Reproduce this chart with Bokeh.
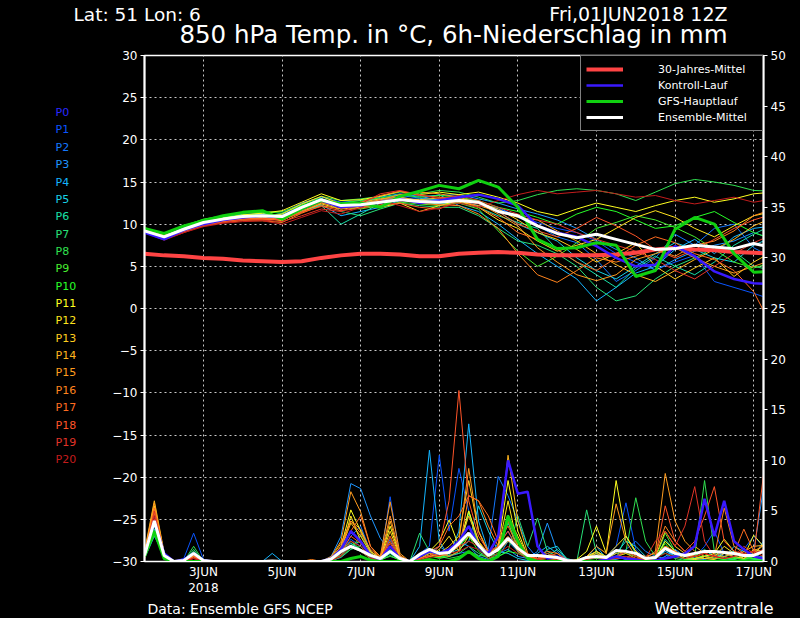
from bokeh.plotting import figure
from bokeh.models import Range1d, LinearAxis, FixedTicker, Legend, LegendItem
from bokeh.layouts import column, row
from bokeh.core.properties import value
from bokeh.embed import file_html
from bokeh.resources import INLINE

FONT = "DejaVu Sans"

# ---------------- time axes (day of June 2018, UTC) ----------------
t_temp = [1.5 + 0.5 * i for i in range(33)]    # 01JUN 12Z ... 17JUN 12Z, 12-hourly
t_prec = [1.5 + 0.25 * i for i in range(64)]   # 01JUN 12Z ... 17JUN 06Z, 6-hourly

x_ticks = [3, 5, 7, 9, 11, 13, 15, 17]
x_tick_labels = ["3JUN", "5JUN", "7JUN", "9JUN", "11JUN", "13JUN", "15JUN", "17JUN"]
temp_ticks = [-30, -25, -20, -15, -10, -5, 0, 5, 10, 15, 20, 25, 30]
prec_ticks = [0, 5, 10, 15, 20, 25, 30, 35, 40, 45, 50]

member_names = ["P%d" % i for i in range(21)]
member_colors = ["#2a2aff", "#0a55ff", "#1478ff", "#1e96ff", "#14b4ff", "#18d2e6",
                 "#18e0a8", "#28e078", "#30e050", "#48ee30", "#28ff28", "#ffff20",
                 "#ffe41e", "#ffcc1e", "#ffb41e", "#ff9c1e", "#ff841e", "#ff6c20",
                 "#ff5428", "#e03428", "#c41c1c"]

# ---------------- 850 hPa temperature (deg C), 12-hourly ----------------
temp_clim = [6.5, 6.3, 6.2, 6.0, 5.9, 5.7, 5.6, 5.5, 5.6, 6.0, 6.3, 6.5, 6.5, 6.4, 6.2, 6.2,
             6.5, 6.6, 6.7, 6.6, 6.4, 6.3, 6.3, 6.3, 6.4, 6.6, 7.0, 7.2, 7.0, 6.9, 6.7, 6.6, 6.5]
temp_gfs = [9.5, 8.9, 9.8, 10.4, 11.0, 11.4, 11.6, 10.6, 11.8, 12.8, 12.4, 12.5, 12.0, 13.3, 13.9, 14.6,
            14.2, 15.2, 14.4, 12.0, 8.2, 7.1, 7.2, 7.8, 7.5, 3.8, 4.5, 9.4, 10.8, 10.0, 6.5, 4.3, 4.4]
temp_mean = [9.2, 8.5, 9.4, 10.2, 10.6, 10.9, 11.0, 10.9, 12.0, 12.9, 12.2, 12.3, 12.6, 12.9, 12.7, 12.6,
             12.8, 12.6, 11.5, 11.0, 9.8, 8.9, 8.4, 8.8, 8.2, 7.6, 7.0, 7.1, 7.5, 7.3, 7.1, 7.7, 7.2]

temp_p0 = [9.0, 8.2, 9.3, 10.0, 10.5, 10.8, 11.0, 10.8, 11.8, 12.8, 12.0, 12.2, 12.6, 13.0, 12.5, 12.8,
           13.2, 13.5, 13.0, 12.2, 9.8, 9.0, 8.5, 7.4, 6.0, 5.0, 5.2, 7.4, 6.2, 4.4, 3.5, 3.0, 2.9]
temp_p1 = [9.1, 8.4, 9.5, 10.3, 10.4, 11.0, 11.2, 11.1, 12.2, 12.7, 12.4, 12.0, 12.9, 13.2, 12.9, 13.0,
           13.0, 12.5, 11.8, 11.0, 10.2, 9.5, 9.0, 8.0, 6.5, 5.5, 4.6, 5.5, 6.3, 3.2, 2.5, 1.8, 1.0]
temp_p2 = [9.3, 8.6, 9.2, 10.1, 10.7, 10.8, 10.8, 11.3, 12.5, 13.2, 12.6, 12.8, 13.0, 13.4, 13.1, 12.9,
           12.8, 12.2, 12.0, 10.8, 9.8, 8.5, 7.8, 5.8, 3.2, 4.5, 6.0, 8.8, 7.5, 9.5, 10.0, 7.2, 6.0]
temp_p3 = [9.2, 8.5, 9.6, 10.4, 10.9, 11.2, 11.1, 10.7, 11.8, 12.6, 12.1, 12.5, 13.2, 13.6, 13.3, 13.4,
           13.5, 13.0, 12.5, 11.8, 11.2, 10.5, 9.5, 8.2, 7.0, 6.0, 4.5, 5.8, 6.8, 7.5, 8.0, 9.0, 8.2]
temp_p4 = [9.0, 8.3, 9.1, 9.9, 10.4, 10.7, 10.6, 10.9, 11.5, 12.3, 11.0, 11.5, 12.0, 12.8, 13.0, 13.5,
           12.2, 11.5, 10.0, 8.2, 6.5, 5.0, 3.5, 0.9, 2.5, 4.2, 5.0, 7.0, 8.2, 6.5, 8.5, 9.5, 9.8]
temp_p5 = [9.4, 8.6, 9.5, 10.3, 10.8, 11.1, 11.3, 11.0, 12.1, 13.0, 12.3, 12.6, 12.8, 13.1, 12.8, 12.9,
           13.0, 12.8, 11.5, 10.0, 9.0, 8.0, 6.0, 4.5, 3.5, 5.0, 6.5, 7.8, 7.0, 6.0, 5.5, 7.5, 8.5]
temp_p6 = [9.3, 8.7, 9.4, 10.2, 10.6, 11.0, 10.9, 10.6, 11.6, 12.2, 10.0, 11.2, 12.5, 13.0, 12.6, 12.4,
           12.5, 12.0, 11.0, 10.2, 9.5, 7.0, 5.5, 4.0, 2.5, 4.8, 6.2, 5.0, 4.0, 5.5, 7.5, 8.8, 10.0]
temp_p7 = [9.1, 8.4, 9.3, 10.1, 10.5, 10.9, 11.0, 11.2, 12.4, 13.1, 11.5, 11.0, 11.8, 12.5, 12.2, 12.0,
           12.0, 11.0, 9.5, 8.0, 7.5, 6.5, 5.0, 2.5, 0.9, 1.5, 3.5, 5.0, 6.0, 7.2, 6.8, 5.0, 4.5]
temp_p8 = [9.4, 8.8, 9.7, 10.5, 10.9, 11.3, 11.4, 11.5, 12.3, 13.3, 12.8, 13.0, 13.3, 13.8, 13.6, 14.0,
           13.8, 13.2, 12.5, 12.8, 13.5, 14.0, 14.2, 14.0, 13.6, 12.8, 13.8, 14.8, 15.3, 15.0, 14.6, 14.0, 13.9]
temp_p9 = [9.3, 8.6, 9.5, 10.4, 10.8, 11.1, 11.2, 11.0, 12.0, 12.8, 12.0, 11.8, 12.2, 12.6, 12.4, 12.2,
           12.5, 11.8, 9.2, 6.8, 5.0, 6.2, 7.8, 9.5, 10.2, 11.0, 10.5, 9.6, 8.5, 7.0, 5.5, 4.8, 5.5]
temp_p10 = [9.5, 8.9, 9.8, 10.6, 11.0, 11.4, 11.5, 11.3, 12.2, 13.0, 12.5, 12.8, 13.1, 13.5, 13.2, 13.4,
            13.2, 12.8, 12.0, 11.5, 10.8, 10.0, 11.2, 12.0, 11.5, 10.5, 9.5, 9.8, 10.8, 11.5, 10.2, 9.0, 8.2]
temp_p11 = [9.2, 8.5, 9.4, 10.3, 10.7, 11.1, 11.3, 11.6, 12.6, 13.6, 12.8, 12.9, 13.3, 13.9, 13.5, 13.8,
            13.5, 13.8, 13.2, 12.5, 11.5, 11.0, 11.8, 12.5, 12.0, 11.5, 12.2, 12.8, 13.2, 12.6, 13.0, 13.6, 13.8]
temp_p12 = [9.3, 8.6, 9.3, 10.0, 10.4, 10.6, 10.7, 11.2, 12.4, 13.3, 12.4, 12.2, 12.0, 12.5, 11.5, 12.2,
            12.8, 12.0, 10.5, 9.5, 8.0, 6.8, 7.5, 8.2, 9.5, 10.8, 11.6, 10.8, 9.5, 8.5, 9.8, 11.0, 11.5]
temp_p13 = [9.1, 8.4, 9.2, 10.0, 10.3, 10.6, 10.8, 10.4, 11.6, 12.4, 11.8, 12.0, 12.6, 13.0, 12.9, 13.1,
            13.0, 12.6, 11.8, 10.5, 9.0, 8.2, 7.0, 5.5, 6.5, 7.8, 5.0, 3.5, 4.8, 6.0, 3.8, 5.5, 6.8]
temp_p14 = [9.6, 8.7, 9.3, 9.9, 10.2, 10.5, 10.6, 10.5, 11.4, 12.5, 12.0, 12.6, 13.0, 13.2, 12.8, 12.7,
            12.6, 12.2, 11.5, 10.8, 10.5, 9.2, 8.0, 6.5, 5.2, 4.0, 3.2, 4.5, 5.8, 7.0, 8.2, 9.8, 10.8]
temp_p15 = [9.5, 8.6, 9.4, 10.0, 10.3, 10.6, 10.5, 10.8, 11.7, 12.8, 12.2, 12.4, 12.9, 13.5, 13.8, 13.6,
            13.2, 12.5, 11.2, 9.8, 7.2, 5.5, 4.0, 3.3, 4.0, 5.8, 6.5, 7.2, 6.0, 5.0, 4.2, 5.0, 5.8]
temp_p16 = [9.4, 8.5, 9.2, 9.8, 10.2, 10.4, 10.4, 10.2, 11.3, 12.2, 11.8, 12.3, 12.8, 13.1, 12.5, 12.3,
            12.2, 11.2, 9.5, 6.5, 4.0, 3.1, 4.5, 6.0, 5.5, 6.2, 7.0, 6.2, 7.5, 8.0, 9.2, 11.0, 11.8]
temp_p17 = [9.3, 8.4, 9.1, 9.9, 10.3, 10.5, 10.6, 10.6, 11.5, 12.6, 12.1, 12.6, 13.4, 13.9, 13.4, 13.2,
            13.0, 12.0, 10.8, 9.0, 8.2, 7.0, 5.5, 4.5, 6.0, 7.5, 8.5, 7.8, 6.5, 5.8, 4.5, 2.0, -2.5]
temp_p18 = [9.2, 8.3, 9.2, 10.0, 10.4, 10.7, 10.7, 10.5, 11.4, 12.1, 11.6, 11.9, 12.3, 12.5, 12.0, 11.8,
            12.8, 12.4, 11.5, 10.0, 9.2, 8.5, 9.5, 10.8, 9.8, 8.6, 7.0, 6.0, 7.0, 8.2, 9.5, 10.5, 11.2]
temp_p19 = [9.1, 8.2, 9.0, 9.8, 10.2, 10.5, 10.5, 10.3, 11.0, 11.8, 11.5, 12.4, 13.6, 14.0, 13.5, 13.0,
            13.4, 12.8, 12.0, 11.2, 10.5, 10.0, 9.0, 8.2, 7.5, 6.8, 5.8, 4.5, 3.5, 5.0, 6.5, 7.8, 8.8]
temp_p20 = [9.0, 8.1, 9.0, 9.7, 10.1, 10.3, 10.4, 10.0, 10.8, 11.6, 11.2, 12.0, 12.8, 12.2, 11.5, 11.9,
            12.5, 12.0, 12.8, 13.5, 14.0, 13.6, 13.8, 14.0, 13.6, 13.2, 13.4, 12.8, 12.4, 12.8, 13.2, 12.6, 13.0]

# ---------------- 6h precipitation (mm), 6-hourly ----------------
prec_gfs = [0.5, 3.0, 0.3, 0, 0, 0, 0, 0,  0, 0, 0, 0, 0, 0, 0, 0,
            0, 0, 0, 0, 0, 0.3, 0.5, 0.1,  0, 0, 0, 0, 0, 0.2, 0, 0,
            0.3, 1.0, 0.3, 0, 0.5, 4.5, 2.0, 0.3,  0, 0, 0, 0, 0, 0, 0, 0,
            0, 0, 0, 0, 0, 0, 0, 0,  0, 0, 0, 0, 0, 0, 0, 0]
prec_mean = [0.6, 4.0, 0.6, 0, 0.1, 0.8, 0.1, 0,  0, 0, 0, 0, 0, 0.05, 0, 0,
             0, 0, 0, 0.25, 1.0, 1.5, 1.1, 0.6,  0.3, 1.0, 0.3, 0, 0.7, 1.2, 0.8, 0.9,
             1.8, 2.8, 1.6, 0.6, 1.2, 2.3, 1.3, 0.6,  0.6, 0.5, 0.4, 0.1, 0.05, 0.4, 0.5, 0.4,
             1.1, 1.0, 0.8, 0.3, 0.4, 1.3, 0.8, 0.6,  0.8, 1.0, 1.0, 0.9, 0.8, 0.6, 0.6, 1.0]

prec_p0 = [0.6, 4.0, 0.8, 0, 0.2, 0.8, 0.1, 0,  0, 0, 0, 0, 0, 0, 0, 0,
           0, 0, 0, 0.3, 1.2, 3.0, 2.0, 0.6,  0.2, 1.5, 0.3, 0, 0.5, 1.0, 0.8, 1.2,
           2.0, 3.5, 1.5, 0.8, 2.5, 10.0, 6.7, 6.9,  1.5, 0.3, 0.5, 0.1, 0, 0, 0, 0.2,
           0.5, 0.3, 0.2, 0, 0.1, 0.3, 0.5, 0.8,  1.5, 6.2, 2.5, 6.0, 2.0, 1.2, 0.5, 0.3]
prec_p1 = [0.5, 3.0, 0.6, 0, 0.3, 2.8, 0.2, 0,  0, 0, 0, 0, 0, 0, 0, 0,
           0, 0, 0, 0, 0.8, 2.2, 1.5, 0.4,  0.1, 6.4, 0.5, 0, 0.8, 1.5, 10.5, 3.0,
           9.2, 5.0, 1.2, 0.5, 1.8, 3.0, 1.0, 0.3,  0.5, 0.8, 0.3, 0, 0, 0.2, 0.8, 0.5,
           1.5, 5.8, 1.2, 0.3, 0, 0.5, 1.0, 0.6,  0.4, 1.5, 3.0, 0.8, 0.5, 1.2, 2.5, 1.5]
prec_p2 = [0.8, 4.5, 0.5, 0, 0.1, 1.0, 0.1, 0,  0, 0, 0, 0, 0, 0, 0, 0,
           0, 0, 0, 0.2, 1.0, 2.5, 3.5, 1.0,  0.3, 2.2, 0.4, 0, 0.3, 0.6, 1.0, 0.5,
           0.8, 1.0, 0.5, 1.2, 8.4, 6.5, 4.0, 1.5,  0.3, 0.5, 0.1, 0, 0, 0.5, 1.0, 0.3,
           0.5, 1.2, 2.0, 1.0, 0.5, 0.3, 1.0, 0.2,  0.3, 0.5, 0.8, 0.3, 0.2, 0.5, 0.8, 1.0]
prec_p3 = [1.0, 3.5, 0.5, 0, 0, 0.6, 0, 0,  0, 0, 0, 0, 0, 0, 0, 0,
           0, 0, 0, 0.5, 2.5, 7.7, 7.2, 4.5,  2.3, 1.0, 0.2, 0, 0.6, 0.8, 1.5, 0.8,
           2.0, 1.5, 0.5, 0.2, 0.8, 1.2, 0.5, 0.3,  1.0, 3.8, 1.0, 0.2, 0, 0.3, 0.5, 0.2,
           0.2, 0.5, 0.3, 0.1, 0, 0.5, 1.2, 0.5,  0.3, 0.5, 1.0, 0.5, 0.8, 0.5, 1.0, 7.2]
prec_p4 = [0.3, 2.5, 0.7, 0, 0, 0.5, 0, 0,  0, 0, 0, 0, 0, 0.8, 0, 0,
           0, 0, 0, 0, 0.5, 1.5, 1.0, 0.3,  0.1, 0.8, 0.2, 0, 1.5, 11.0, 2.0, 0.5,
           3.0, 13.6, 4.0, 1.0, 0.5, 2.0, 1.0, 0.2,  0.8, 1.5, 0.8, 0, 0, 0.4, 1.5, 0.3,
           0.5, 0.2, 0.1, 0, 0.3, 1.0, 0.5, 0.2,  0.3, 0.2, 0.5, 0.3, 1.5, 1.0, 0.5, 2.0]
prec_p5 = [0.5, 2.8, 0.6, 0, 0, 0.7, 0, 0,  0, 0, 0, 0, 0, 0, 0, 0,
           0, 0, 0, 0.2, 0.6, 1.8, 1.2, 0.2,  0, 1.2, 0.2, 0, 0.5, 1.0, 0.6, 0.8,
           1.2, 2.0, 5.5, 3.0, 1.0, 0.8, 0.3, 0.1,  0.2, 1.2, 1.5, 0.2, 0, 0.2, 0.5, 0.3,
           0.8, 2.0, 1.5, 0.5, 0.2, 1.2, 0.5, 0.3,  0.2, 0.5, 0.3, 0.8, 1.0, 0.5, 0.3, 0.5]
prec_p6 = [0.4, 3.2, 0.5, 0, 0, 0.9, 0, 0,  0, 0, 0, 0, 0, 0, 0, 0,
           0, 0, 0, 0.1, 0.4, 1.2, 1.5, 0.5,  0.2, 0.8, 0.1, 0, 0.3, 0.5, 0.8, 0.5,
           1.0, 4.8, 2.0, 0.5, 1.2, 3.8, 1.5, 0.5,  0.3, 0.5, 1.2, 0.3, 0, 0.3, 1.0, 0.5,
           0.3, 2.5, 0.8, 0.2, 0.1, 2.2, 1.0, 0.2,  0.3, 0.5, 0.8, 0.3, 0.2, 0.5, 0.8, 0.3]
prec_p7 = [0.6, 3.0, 0.8, 0, 0, 1.2, 0, 0,  0, 0, 0, 0, 0, 0, 0, 0,
           0, 0, 0, 0.3, 0.8, 1.6, 2.0, 0.8,  0.2, 0.5, 0.2, 0, 2.8, 1.0, 0.4, 0.6,
           0.8, 1.5, 0.8, 0.3, 0.5, 1.0, 4.5, 1.5,  4.3, 1.0, 0.5, 0, 0, 5.1, 0.8, 0.2,
           0.3, 0.5, 0.2, 0.1, 0.2, 1.5, 0.8, 0.3,  0.5, 1.2, 0.4, 0.2, 0.5, 0.3, 0.2, 0.2]
prec_p8 = [0.5, 2.6, 0.6, 0, 0, 1.5, 0, 0,  0, 0, 0, 0, 0, 0, 0, 0,
           0, 0, 0, 0.2, 0.5, 1.2, 2.6, 1.0,  0.3, 1.0, 0.2, 0, 0.5, 0.8, 0.5, 0.3,
           0.5, 1.0, 0.6, 0.5, 0.8, 4.6, 2.0, 0.5,  0.3, 0.6, 0.2, 0, 0, 0.3, 0.5, 0.2,
           0.5, 1.0, 6.3, 2.0, 0.5, 0.8, 0.3, 0.1,  0.5, 8.0, 1.0, 0.3, 0.2, 0.5, 0.3, 0.2]
prec_p9 = [0.3, 2.7, 0.5, 0, 0, 1.0, 0, 0,  0, 0, 0, 0, 0, 0, 0, 0,
           0, 0, 0, 0.4, 1.0, 2.0, 1.2, 0.3,  0.1, 0.6, 0.1, 0, 0.8, 0.6, 0.3, 0.5,
           1.0, 5.0, 1.5, 0.3, 0.8, 4.0, 1.0, 0.3,  0.5, 0.8, 0.3, 0, 0, 0.4, 0.8, 0.2,
           0.3, 0.5, 0.2, 0, 0.3, 2.8, 1.0, 0.5,  0.8, 0.3, 0.2, 0.5, 0.3, 0.2, 0.5, 0.3]
prec_p10 = [0.4, 3.0, 0.6, 0, 0, 0.5, 0, 0,  0, 0, 0, 0, 0, 0, 0, 0,
            0, 0, 0, 0.2, 0.6, 1.4, 1.0, 0.3,  0.1, 1.2, 0.3, 0, 0.3, 0.5, 0.4, 0.8,
            1.5, 2.5, 1.0, 0.3, 0.5, 1.0, 0.8, 0.4,  0.2, 0.3, 0.2, 0, 0, 0.2, 0.3, 0.2,
            0.5, 0.8, 0.5, 0.2, 0.3, 1.8, 0.6, 0.2,  0.3, 0.6, 0.3, 0.2, 0.4, 0.2, 0.3, 0.2]
prec_p11 = [0.8, 5.5, 0.8, 0, 0.2, 0.6, 0.1, 0,  0, 0, 0, 0, 0, 0, 0, 0,
            0, 0, 0, 0.3, 1.5, 5.1, 3.0, 1.0,  0.3, 3.5, 0.5, 0, 0.5, 1.0, 2.0, 4.1,
            1.5, 5.0, 2.0, 0.5, 1.5, 8.0, 3.0, 0.5,  0.3, 0.5, 0.3, 0, 0.2, 1.0, 3.5, 0.8,
            8.0, 2.5, 1.0, 0.3, 0.3, 2.0, 1.0, 0.5,  0.3, 0.5, 0.8, 2.2, 1.0, 0.5, 2.6, 1.5]
prec_p12 = [0.7, 5.0, 0.7, 0, 0.1, 0.8, 0, 0,  0, 0, 0, 0, 0, 0, 0, 0,
            0, 0, 0, 0.2, 1.0, 4.5, 2.0, 0.6,  0.2, 2.5, 0.3, 0, 0.3, 0.6, 1.2, 2.5,
            1.0, 2.5, 1.5, 0.5, 1.2, 6.0, 1.5, 0.3,  0.2, 0.3, 0.2, 0, 0, 0.5, 1.0, 0.5,
            1.5, 2.5, 1.0, 0.3, 0.5, 1.5, 0.8, 0.3,  0.2, 0.3, 0.5, 1.5, 0.8, 0.3, 1.2, 1.0]
prec_p13 = [0.9, 5.2, 0.8, 0, 0, 0.7, 0, 0,  0, 0, 0, 0, 0, 0, 0, 0,
            0, 0, 0, 0.3, 1.2, 3.8, 2.5, 0.8,  0.2, 3.0, 0.4, 0, 0.2, 0.5, 0.8, 1.5,
            2.5, 8.0, 3.0, 0.8, 1.0, 4.5, 2.5, 0.5,  0.3, 0.5, 0.3, 0, 0, 0.3, 1.0, 0.3,
            0.8, 1.0, 0.5, 0.3, 0.5, 3.0, 1.5, 0.8,  0.5, 0.3, 0.2, 0.8, 0.5, 0.3, 0.8, 1.6]
prec_p14 = [1.0, 6.0, 0.9, 0, 0, 0.6, 0, 0,  0, 0, 0, 0, 0, 0, 0, 0,
            0, 0, 0, 0.4, 1.8, 4.0, 3.2, 1.0,  0.3, 4.0, 0.5, 0, 0.3, 0.5, 0.5, 0.8,
            1.5, 4.5, 2.0, 0.8, 1.5, 10.5, 4.0, 0.8,  0.3, 0.6, 0.2, 0, 0, 0.3, 0.8, 0.3,
            0.5, 0.8, 0.3, 0.2, 0.5, 1.5, 1.0, 0.5,  1.5, 0.8, 0.5, 0.3, 0.5, 1.0, 1.5, 1.6]
prec_p15 = [0.8, 5.8, 0.7, 0, 0, 0.5, 0, 0,  0, 0, 0, 0, 0, 0, 0, 0,
            0, 0, 0, 0.5, 2.0, 6.9, 4.9, 1.5,  0.5, 5.9, 0.8, 0, 0.3, 0.8, 0.5, 1.0,
            2.0, 9.2, 3.0, 1.0, 1.0, 2.0, 1.5, 0.5,  0.3, 0.5, 0.3, 0, 0, 0.5, 1.5, 0.8,
            5.7, 2.0, 0.5, 0.3, 1.0, 8.7, 4.0, 2.0,  1.0, 0.5, 0.3, 0.5, 0.8, 0.5, 1.0, 1.6]
prec_p16 = [0.6, 4.8, 0.6, 0, 0, 0.5, 0, 0,  0, 0, 0, 0, 0, 0, 0, 0,
            0, 0.2, 0, 0.3, 1.5, 4.0, 2.8, 1.2,  0.4, 4.5, 0.6, 0, 0.5, 1.2, 0.8, 0.5,
            1.0, 6.5, 6.0, 3.5, 1.5, 2.5, 1.0, 0.5,  0.5, 1.0, 0.8, 0.1, 0, 0.3, 0.5, 0.3,
            0.5, 1.0, 0.8, 0.5, 0.8, 3.5, 2.0, 1.0,  0.5, 0.8, 0.5, 5.3, 1.5, 0.8, 1.0, 0.8]
prec_p17 = [0.5, 5.3, 0.7, 0, 0, 0.6, 0, 0,  0, 0, 0, 0, 0, 0, 0, 0,
            0, 0, 0, 0.2, 1.0, 3.0, 4.5, 1.5,  0.3, 2.0, 0.3, 0, 0.5, 1.0, 1.5, 3.5,
            4.5, 6.5, 6.0, 4.5, 2.0, 3.5, 1.5, 0.5,  0.3, 0.5, 0.8, 0.2, 0, 0.3, 0.5, 0.3,
            0.3, 0.5, 0.3, 0.2, 0.5, 1.5, 1.0, 0.5,  0.5, 0.8, 0.5, 1.0, 0.8, 3.2, 1.0, 0.5]
prec_p18 = [0.4, 4.2, 0.5, 0, 0, 0.4, 0, 0,  0, 0, 0, 0, 0, 0, 0, 0,
            0, 0, 0, 0.2, 0.8, 2.5, 1.8, 0.5,  0.2, 1.8, 0.2, 0, 0.3, 0.5, 1.5, 6.0,
            16.9, 6.0, 2.5, 1.0, 1.5, 3.0, 1.2, 0.3,  0.2, 0.5, 0.3, 0, 0, 0.2, 0.5, 0.2,
            0.3, 0.5, 0.3, 0.2, 0.5, 5.5, 2.0, 1.0,  2.0, 4.5, 7.4, 2.0, 1.0, 0.8, 0.5, 8.6]
prec_p19 = [0.3, 5.0, 0.5, 0, 0, 0.3, 0, 0,  0, 0, 0, 0, 0, 0, 0, 0,
            0, 0, 0, 0.1, 0.6, 2.0, 1.5, 0.4,  0.1, 2.5, 0.2, 0, 0.2, 0.6, 0.8, 1.0,
            1.5, 2.0, 1.5, 0.5, 2.5, 4.0, 2.0, 0.8,  0.3, 0.8, 0.5, 0, 0, 0.3, 0.6, 0.3,
            0.5, 1.0, 0.5, 0.3, 2.0, 3.0, 1.5, 3.5,  7.4, 2.0, 0.5, 0.3, 0.5, 1.5, 0.8, 1.2]
prec_p20 = [0.2, 4.5, 0.4, 0, 0, 0.3, 0, 0,  0, 0, 0, 0, 0, 0, 0, 0,
            0, 0, 0, 0.1, 0.5, 1.5, 1.0, 0.3,  0.1, 1.5, 0.2, 0, 0.1, 0.4, 0.6, 0.8,
            1.0, 1.5, 1.2, 0.3, 0.8, 1.5, 0.8, 0.3,  0.2, 0.3, 0.2, 0, 0, 0.2, 0.4, 0.2,
            0.3, 0.5, 0.3, 0.1, 0.3, 0.8, 0.5, 0.3,  0.5, 0.8, 0.5, 0.3, 0.5, 0.8, 1.0, 0.5]

temp_members = [temp_p0, temp_p1, temp_p2, temp_p3, temp_p4, temp_p5, temp_p6, temp_p7, temp_p8,
                temp_p9, temp_p10, temp_p11, temp_p12, temp_p13, temp_p14, temp_p15, temp_p16,
                temp_p17, temp_p18, temp_p19, temp_p20]
prec_members = [prec_p0, prec_p1, prec_p2, prec_p3, prec_p4, prec_p5, prec_p6, prec_p7, prec_p8,
                prec_p9, prec_p10, prec_p11, prec_p12, prec_p13, prec_p14, prec_p15, prec_p16,
                prec_p17, prec_p18, prec_p19, prec_p20]

# ---------------- layout geometry (px) ----------------
TOTAL_W, TOTAL_H = 800, 618
TOP_H = 49          # header strip
LEFT_W = 108        # member-label strip
MAIN_W = TOTAL_W - LEFT_W
B_LEFT, B_RIGHT, B_TOP, B_BOTTOM = 36, 37, 6, 18
FRAME_W, FRAME_H = MAIN_W - B_LEFT - B_RIGHT, 508
MAIN_H = B_TOP + FRAME_H + B_BOTTOM
BOT_H = TOTAL_H - TOP_H - MAIN_H
X0, X1 = 1.5, 17.25
BLACK = {"background-color": "black"}


def strip(w, h):
    f = figure(width=w, height=h, x_range=Range1d(0, w), y_range=Range1d(h, 0),
               output_backend="svg", toolbar_location=None,
               x_axis_location=None, y_axis_location=None,
               background_fill_color="black", border_fill_color="black",
               min_border=0, outline_line_color=None, styles=BLACK)
    f.grid.visible = False
    return f


def txt(f, x, y, s, size, align="left", color="white"):
    # y is the vertical centre of the text
    f.text(x=[x], y=[y], text=[s], text_color=color, text_font=value(FONT),
           text_font_size=value(size), text_align=align, text_baseline="middle")


# ---------------- main chart ----------------
p = figure(width=MAIN_W, height=MAIN_H, x_range=Range1d(X0, X1), y_range=Range1d(-30, 30),
           output_backend="svg", toolbar_location=None,
           background_fill_color="black", border_fill_color="black", styles=BLACK,
           min_border_left=B_LEFT, min_border_right=B_RIGHT,
           min_border_top=B_TOP, min_border_bottom=B_BOTTOM)
p.outline_line_color = "white"
p.outline_line_width = 1.5
p.extra_y_ranges = {"precip": Range1d(0, 50)}

p.xaxis.ticker = FixedTicker(ticks=x_ticks)
p.xaxis.major_label_overrides = {t: l for t, l in zip(x_ticks, x_tick_labels)}
p.yaxis.ticker = FixedTicker(ticks=temp_ticks)
right_axis = LinearAxis(y_range_name="precip", ticker=FixedTicker(ticks=prec_ticks))
p.add_layout(right_axis, "right")

for ax in [p.xaxis[0], p.yaxis[0], right_axis]:
    ax.axis_line_color = "white"
    ax.axis_line_width = 2
    ax.major_tick_line_color = "white"
    ax.major_tick_in = 0
    ax.major_tick_out = 4
    ax.minor_tick_line_color = None
    ax.major_label_text_color = "white"
    ax.major_label_text_font = FONT
    ax.major_label_text_font_size = "12px"
    ax.major_label_standoff = 3
p.xaxis.major_tick_line_color = None
p.xaxis.major_tick_out = 0
p.xaxis.axis_line_width = 1
p.xaxis.major_label_standoff = 3

p.xgrid.ticker = FixedTicker(ticks=x_ticks)
p.ygrid.ticker = FixedTicker(ticks=temp_ticks)
for g in [p.xgrid[0], p.ygrid[0]]:
    g.grid_line_color = "#c8c8c8"
    g.grid_line_dash = "2 3"
    g.grid_line_width = 1

# precipitation (right axis)
for i in range(1, 21):
    p.line(t_prec, prec_members[i], y_range_name="precip", line_color=member_colors[i], line_width=1)
p.line(t_prec, prec_p0, y_range_name="precip", line_color="#3a1aff", line_width=2.5)
p.line(t_prec, prec_gfs, y_range_name="precip", line_color="#10d010", line_width=3)
p.line(t_prec, prec_mean, y_range_name="precip", line_color="white", line_width=3)

# temperature (left axis)
for i in range(1, 21):
    p.line(t_temp, temp_members[i], line_color=member_colors[i], line_width=1)
r_clim = p.line(t_temp, temp_clim, line_color="#ff4444", line_width=4)
r_ctrl = p.line(t_temp, temp_p0, line_color="#3a1aff", line_width=2.5)
r_gfs = p.line(t_temp, temp_gfs, line_color="#10d010", line_width=3)
r_mean = p.line(t_temp, temp_mean, line_color="white", line_width=3)

legend = Legend(items=[LegendItem(label="30-Jahres-Mittel", renderers=[r_clim]),
                       LegendItem(label="Kontroll-Lauf", renderers=[r_ctrl]),
                       LegendItem(label="GFS-Hauptlauf", renderers=[r_gfs]),
                       LegendItem(label="Ensemble-Mittel", renderers=[r_mean])],
                location="top_right", margin=0, padding=5, spacing=0,
                glyph_width=37, glyph_height=16, label_height=16,
                label_standoff=35, label_width=99,
                background_fill_color="black", background_fill_alpha=1.0,
                border_line_color="white", border_line_width=1,
                label_text_color="white", label_text_font=FONT, label_text_font_size="11px")
p.add_layout(legend)

# ---------------- header strip ----------------
top = strip(TOTAL_W, TOP_H)
txt(top, 73, 13.5, "Lat: 51 Lon: 6", "18.5px")
txt(top, 727, 13, "Fri,01JUN2018 12Z", "19px", align="right")
txt(top, 453, 34, "850 hPa Temp. in \u00b0C, 6h-Niederschlag in mm", "24.5px", align="center")

# ---------------- member labels strip ----------------
left = strip(LEFT_W, MAIN_H)
for i, (name, col) in enumerate(zip(member_names, member_colors)):
    txt(left, 55, 60 + 18.25 * i, name, "11px", color=col)

# ---------------- footer strip ----------------
bot = strip(TOTAL_W, BOT_H)
x_3jun = LEFT_W + B_LEFT + (3 - X0) / (X1 - X0) * FRAME_W
txt(bot, x_3jun, 6, "2018", "12px", align="center")
txt(bot, 147, 27, "Data: Ensemble GFS NCEP", "14px")
txt(bot, 773, 27, "Wetterzentrale", "16px", align="right")

mid = row(left, p, styles=BLACK)
layout = column(top, mid, bot, styles=BLACK)
open("out.html", "w").write(file_html(layout, INLINE))
